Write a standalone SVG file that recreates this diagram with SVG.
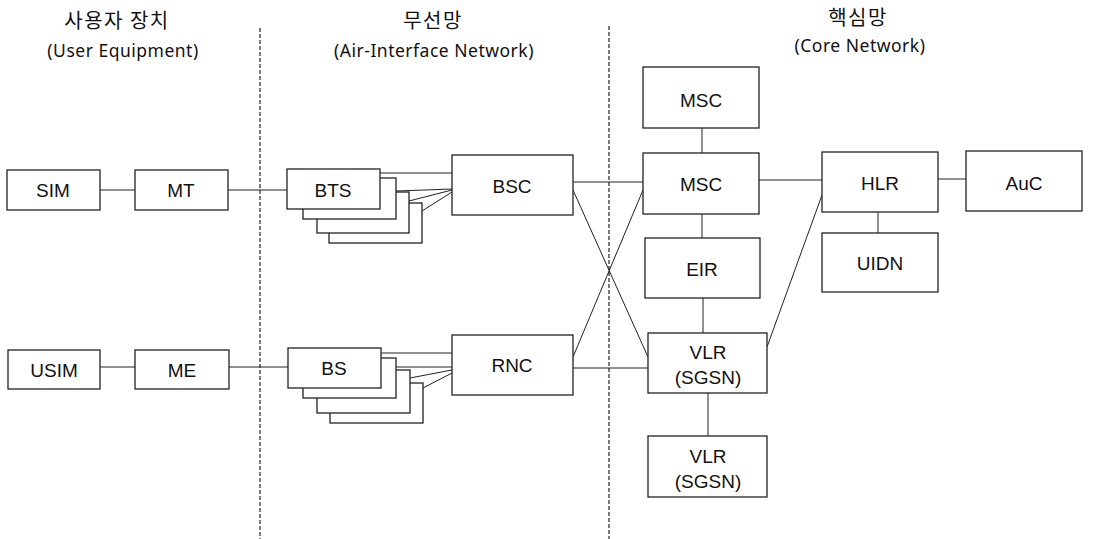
<svg xmlns="http://www.w3.org/2000/svg" width="1100" height="539" viewBox="0 0 1100 539">
<style>
.box{fill:#fff;stroke:#222;stroke-width:1.3}
.lbl{font-family:"Liberation Sans",Arial,sans-serif;font-size:19px;fill:#111;text-anchor:middle}
.hd{font-family:"Noto Sans CJK KR",sans-serif;font-size:20px;fill:#111;text-anchor:middle;letter-spacing:1.5px}
.sub{font-family:"Noto Sans","Noto Sans CJK KR",sans-serif;font-size:17.5px;fill:#111;text-anchor:middle;letter-spacing:0.5px}
.ln{stroke:#222;stroke-width:1;fill:none}
.dash{stroke:#222;stroke-width:1.2;stroke-dasharray:4,2;fill:none}
</style>
<rect width="1100" height="539" fill="#fff"/>
<g id="headings">
<text class="hd" x="117" y="28">사용자 장치</text>
<text class="sub" x="123" y="57">(User Equipment)</text>
<text class="hd" x="433" y="28">무선망</text>
<text class="sub" x="434" y="57">(Air-Interface Network)</text>
<text class="hd" x="858" y="25">핵심망</text>
<text class="sub" x="860" y="52">(Core Network)</text>
</g>
<g id="dividers">
<line class="dash" x1="260" y1="28" x2="260" y2="539"/>
<line class="dash" x1="609" y1="26" x2="609" y2="539"/>
</g>
<g id="connectors">
<line class="ln" x1="100" y1="190" x2="135" y2="190"/>
<line class="ln" x1="228" y1="190" x2="287" y2="190"/>
<line class="ln" x1="380" y1="173" x2="452" y2="173"/>
<line class="ln" x1="396" y1="191" x2="452" y2="189"/>
<line class="ln" x1="409" y1="201" x2="452" y2="190"/>
<line class="ln" x1="422" y1="211" x2="452" y2="192"/>
<line class="ln" x1="100" y1="367" x2="135" y2="367"/>
<line class="ln" x1="229" y1="367" x2="288" y2="367"/>
<line class="ln" x1="381" y1="353" x2="452" y2="353"/>
<line class="ln" x1="396" y1="367" x2="452" y2="367"/>
<line class="ln" x1="410" y1="378" x2="452" y2="370"/>
<line class="ln" x1="423" y1="388" x2="452" y2="373"/>
<line class="ln" x1="573" y1="182" x2="643" y2="182"/>
<line class="ln" x1="573" y1="190" x2="648" y2="357"/>
<line class="ln" x1="573" y1="357" x2="643" y2="190"/>
<line class="ln" x1="573" y1="368" x2="648" y2="368"/>
<line class="ln" x1="702" y1="128" x2="702" y2="153"/>
<line class="ln" x1="702" y1="214" x2="702" y2="238"/>
<line class="ln" x1="703" y1="298" x2="703" y2="333"/>
<line class="ln" x1="708" y1="393" x2="708" y2="436"/>
<line class="ln" x1="759" y1="180" x2="822" y2="180"/>
<line class="ln" x1="938" y1="179" x2="966" y2="179"/>
<line class="ln" x1="878" y1="212" x2="878" y2="233"/>
<line class="ln" x1="767" y1="347" x2="822" y2="195"/>
</g>
<g id="SIM"><rect class="box" x="7" y="170" width="93" height="40"/><text class="lbl" x="53" y="197">SIM</text></g>
<g id="MT"><rect class="box" x="135" y="170" width="93" height="40"/><text class="lbl" x="181" y="197">MT</text></g>
<g id="BTS">
<rect class="box" x="329" y="203" width="93" height="40"/>
<rect class="box" x="317" y="192" width="92" height="41"/>
<rect class="box" x="303" y="178" width="93" height="41"/>
<rect class="box" x="287" y="169" width="93" height="40"/>
<text class="lbl" x="333" y="197">BTS</text>
</g>
<g id="BSC"><rect class="box" x="452" y="155" width="121" height="60"/><text class="lbl" x="512" y="193">BSC</text></g>
<g id="USIM"><rect class="box" x="8" y="350" width="92" height="39"/><text class="lbl" x="54" y="377">USIM</text></g>
<g id="ME"><rect class="box" x="135" y="350" width="94" height="39"/><text class="lbl" x="182" y="377">ME</text></g>
<g id="BS">
<rect class="box" x="330" y="383" width="93" height="40"/>
<rect class="box" x="317" y="370" width="93" height="43"/>
<rect class="box" x="303" y="358" width="93" height="40"/>
<rect class="box" x="288" y="348" width="93" height="40"/>
<text class="lbl" x="334" y="375">BS</text>
</g>
<g id="RNC"><rect class="box" x="452" y="335" width="121" height="60"/><text class="lbl" x="512" y="372">RNC</text></g>
<g id="MSC-top"><rect class="box" x="643" y="67" width="116" height="61"/><text class="lbl" x="701" y="107">MSC</text></g>
<g id="MSC"><rect class="box" x="643" y="153" width="116" height="61"/><text class="lbl" x="701" y="191">MSC</text></g>
<g id="EIR"><rect class="box" x="645" y="238" width="115" height="60"/><text class="lbl" x="702" y="276">EIR</text></g>
<g id="VLR1"><rect class="box" x="648" y="333" width="119" height="60"/><text class="lbl" x="708" y="359">VLR</text><text class="lbl" x="708" y="384">(SGSN)</text></g>
<g id="VLR2"><rect class="box" x="648" y="436" width="119" height="61"/><text class="lbl" x="708" y="463">VLR</text><text class="lbl" x="708" y="488">(SGSN)</text></g>
<g id="HLR"><rect class="box" x="822" y="152" width="116" height="60"/><text class="lbl" x="880" y="190">HLR</text></g>
<g id="AuC"><rect class="box" x="966" y="151" width="116" height="60"/><text class="lbl" x="1024" y="190">AuC</text></g>
<g id="UIDN"><rect class="box" x="822" y="233" width="116" height="59"/><text class="lbl" x="880" y="270">UIDN</text></g>
</svg>
